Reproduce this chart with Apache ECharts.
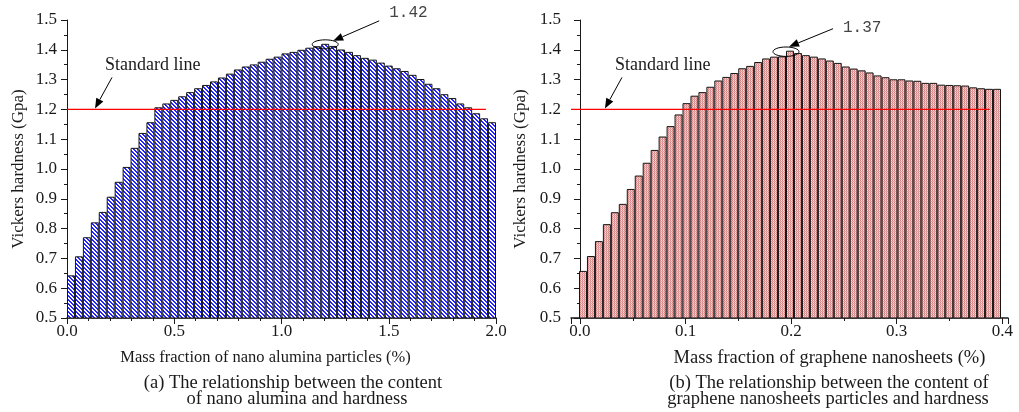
<!DOCTYPE html>
<html>
<head>
<meta charset="utf-8">
<script src="https://cdn.jsdelivr.net/npm/echarts@6/dist/echarts.min.js"></script>
<style>
  html, body { margin: 0; padding: 0; background: #fff; }
  #chart { width: 1019px; height: 412px; }
</style>
</head>
<body>
<div id="chart"></div>
<script>
// hardness of each bar (Gpa)
const aluminaHardness = [
  0.643, 0.707, 0.771, 0.821, 0.856, 0.907, 0.957, 1.007, 1.071, 1.121,
  1.157, 1.207, 1.220, 1.232, 1.244, 1.258, 1.271, 1.282, 1.294, 1.307,
  1.320, 1.334, 1.344, 1.351, 1.360, 1.370, 1.377, 1.388, 1.393, 1.400,
  1.407, 1.412, 1.420, 1.413, 1.401, 1.393, 1.382, 1.373, 1.367, 1.357,
  1.347, 1.338, 1.329, 1.316, 1.302, 1.286, 1.271, 1.251, 1.238, 1.220,
  1.207, 1.187, 1.170, 1.157
];
const grapheneHardness = [
  0.658, 0.708, 0.758, 0.815, 0.855, 0.883, 0.933, 0.978, 1.021, 1.064,
  1.109, 1.144, 1.183, 1.221, 1.246, 1.258, 1.276, 1.297, 1.309, 1.322,
  1.338, 1.346, 1.359, 1.371, 1.377, 1.378, 1.397, 1.389, 1.382, 1.377,
  1.371, 1.364, 1.356, 1.344, 1.337, 1.331, 1.324, 1.314, 1.308, 1.301,
  1.301, 1.297, 1.296, 1.289, 1.289, 1.283, 1.282, 1.281, 1.280, 1.274,
  1.271, 1.269, 1.269
];
const aluminaBins = aluminaHardness.map((_, i) => String(i + 1));
const grapheneBins = grapheneHardness.map((_, i) => String(i + 1));

const standardHardness = 1.2;
const aluminaStdLine = [0, 1.953];        // x extent of the red line, %
const grapheneAxis = [-0.0085, 0.4054];   // x axis range of chart (b)
const grapheneStdLine = [-0.0085, 0.388];
const peakLabels = ['1.42', '1.37'];

const captionA = ['(a) The relationship between the content', 'of nano alumina and hardness'];
const captionB = ['(b) The relationship between the content of', 'graphene nanosheets particles and hardness'];

const FONT = "'Liberation Serif', 'Times New Roman', serif";
const INK = '#1a1a1a';

function makePattern(size, paint) {
  const c = document.createElement('canvas');
  c.width = size; c.height = size;
  const ctx = c.getContext('2d');
  for (let y = 0; y < size; y++) {
    for (let x = 0; x < size; x++) {
      ctx.fillStyle = paint(x, y);
      ctx.fillRect(x, y, 1, 1);
    }
  }
  return { image: c, repeat: 'repeat' };
}
const blueHatch = makePattern(4, (x, y) => ((x - y + 8) % 4 < 2 ? '#2424ff' : '#ffffff'));
const pinkDots = makePattern(2, (x, y) => {
  if (x === 0 && y === 0) return '#d68282';
  if (x === 1 && y === 1) return '#e29c9c';
  if (x === 1 && y === 0) return '#f8e0e0';
  return '#e8aeae';
});

const chart = echarts.init(document.getElementById('chart'), null, { renderer: 'canvas' });

const yAxisCommon = {
  type: 'value',
  min: 0.5,
  max: 1.5,
  interval: 0.1,
  name: 'Vickers hardness (Gpa)',
  nameLocation: 'middle',
  nameGap: 40,
  nameTextStyle: { fontFamily: FONT, fontSize: 17, color: INK },
  axisLine: { show: true, lineStyle: { color: INK, width: 1 } },
  axisTick: { show: true, length: 6, lineStyle: { color: INK } },
  minorTick: { show: true, splitNumber: 2, length: 3, lineStyle: { color: INK } },
  axisLabel: { fontFamily: FONT, fontSize: 17, color: INK, margin: 10, formatter: v => v.toFixed(1) },
  splitLine: { show: false }
};

const xLabel = { fontFamily: FONT, fontSize: 17, color: INK, margin: 5 };

const option = {
  animation: false,
  backgroundColor: '#fff',
  grid: [
    { left: 67, top: 20, width: 429, height: 298 },
    { left: 571, top: 20, width: 437, height: 298 },
    { left: 579, top: 20, width: 422, height: 298 }
  ],
  xAxis: [
    { type: 'category', gridIndex: 0, data: aluminaBins, show: false, boundaryGap: true },
    {
      type: 'value', gridIndex: 0, min: 0, max: 2, interval: 0.5, position: 'bottom',
      name: 'Mass fraction of nano alumina particles (%)',
      nameLocation: 'middle', nameGap: 31,
      nameTextStyle: { fontFamily: FONT, fontSize: 16.5, color: INK, padding: [0, 32, 0, 0] },
      axisLine: { show: true, lineStyle: { color: INK, width: 1.5 } },
      axisTick: { show: true, length: 6, lineStyle: { color: INK } },
      minorTick: { show: true, splitNumber: 5, length: 3, lineStyle: { color: INK } },
      axisLabel: Object.assign({}, xLabel, { formatter: v => v.toFixed(1) }),
      splitLine: { show: false }
    },
    {
      type: 'value', gridIndex: 1, min: grapheneAxis[0], max: grapheneAxis[1], position: 'bottom',
      name: 'Mass fraction of graphene nanosheets (%)',
      nameLocation: 'middle', nameGap: 31,
      nameTextStyle: { fontFamily: FONT, fontSize: 18.5, color: INK, padding: [0, 0, 0, 80] },
      axisLine: { show: true, lineStyle: { color: INK, width: 1.5 } },
      axisTick: { show: true, length: 6, lineStyle: { color: INK } },
      minorTick: { show: true, splitNumber: 2, length: 3, lineStyle: { color: INK } },
      axisLabel: Object.assign({}, xLabel, {
        formatter: v => (Math.abs(v * 10 - Math.round(v * 10)) < 1e-6 ? v.toFixed(1) : '')
      }),
      splitLine: { show: false }
    },
    { type: 'category', gridIndex: 2, data: grapheneBins, show: false, boundaryGap: true }
  ],
  yAxis: [
    Object.assign({ gridIndex: 0 }, yAxisCommon),
    Object.assign({ gridIndex: 1 }, yAxisCommon, { nameGap: 42 }),
    { type: 'value', gridIndex: 2, min: 0.5, max: 1.5, show: false }
  ],
  series: [
    {
      type: 'bar', xAxisIndex: 0, yAxisIndex: 0,
      data: aluminaHardness,
      barWidth: '100%', barCategoryGap: '0%',
      itemStyle: { color: blueHatch, borderColor: '#151515', borderWidth: 1 },
      silent: true
    },
    {
      type: 'line', xAxisIndex: 1, yAxisIndex: 0,
      data: aluminaStdLine.map(x => [x, standardHardness]),
      symbol: 'none', z: 5,
      lineStyle: { color: '#ff0000', width: 1.2 }
    },
    {
      type: 'bar', xAxisIndex: 3, yAxisIndex: 2,
      data: grapheneHardness,
      barWidth: '100%', barCategoryGap: '0%',
      itemStyle: { color: pinkDots, borderColor: '#151515', borderWidth: 1 },
      silent: true
    },
    {
      type: 'line', xAxisIndex: 2, yAxisIndex: 1,
      data: grapheneStdLine.map(x => [x, standardHardness]),
      symbol: 'none', z: 5,
      lineStyle: { color: '#ff0000', width: 1.2 }
    }
  ]
};

chart.setOption(option);

function arrow(x1, y1, x2, y2) {
  const a = Math.atan2(y2 - y1, x2 - x1);
  const L = 10, W = 4;
  const bx = x2 - L * Math.cos(a), by = y2 - L * Math.sin(a);
  return [
    { type: 'line', z: 10, shape: { x1: x1, y1: y1, x2: bx, y2: by }, style: { stroke: '#000', lineWidth: 1 } },
    {
      type: 'polygon', z: 10,
      shape: { points: [[x2, y2], [bx + W * Math.sin(a), by - W * Math.cos(a)], [bx - W * Math.sin(a), by + W * Math.cos(a)]] },
      style: { fill: '#000' }
    }
  ];
}

function text(x, y, str, size, opts) {
  return {
    type: 'text', x: x, y: y, z: 10,
    style: Object.assign({ text: str, fontFamily: FONT, fontSize: size, fill: INK, align: 'left', verticalAlign: 'middle' }, opts || {})
  };
}

function peakIndex(arr) {
  return arr.indexOf(Math.max.apply(null, arr));
}

const g = [];
// peak markers
const pA = chart.convertToPixel({ seriesIndex: 0 }, [peakIndex(aluminaHardness), Math.max.apply(null, aluminaHardness)]);
const pB = chart.convertToPixel({ seriesIndex: 2 }, [peakIndex(grapheneHardness), Math.max.apply(null, grapheneHardness)]);
g.push({ type: 'ellipse', z: 10, shape: { cx: pA[0], cy: pA[1] + 0.5, rx: 13, ry: 4.5 }, style: { fill: null, stroke: '#000', lineWidth: 1 } });
g.push(...arrow(pA[0] + 54, pA[1] - 23, pA[0] + 8, pA[1] - 3));
g.push(text(pA[0] + 64, pA[1] - 31, peakLabels[0], 16, { fontFamily: "'Liberation Mono', monospace", fill: '#444' }));
g.push({ type: 'ellipse', z: 10, shape: { cx: pB[0] - 4, cy: pB[1] + 1, rx: 13, ry: 4.7 }, style: { fill: null, stroke: '#000', lineWidth: 1 } });
g.push(...arrow(pB[0] + 43, pB[1] - 22, pB[0] - 1, pB[1] - 4));
g.push(text(pB[0] + 53, pB[1] - 23, peakLabels[1], 16, { fontFamily: "'Liberation Mono', monospace", fill: '#444' }));

// standard line callouts
const sA = chart.convertToPixel({ seriesIndex: 1 }, [0, standardHardness]);
const sB = chart.convertToPixel({ seriesIndex: 3 }, [0, standardHardness]);
g.push(text(sA[0] + 38, sA[1] - 44, 'Standard line', 18));
g.push(...arrow(sA[0] + 45, sA[1] - 32, sA[0] + 28, sA[1] - 1));
g.push(text(sB[0] + 35, sB[1] - 44, 'Standard line', 18));
g.push(...arrow(sB[0] + 42, sB[1] - 32, sB[0] + 25, sB[1] - 1));

// sub-figure captions
g.push(text(293, 383, captionA[0], 18.5, { align: 'center' }));
g.push(text(297, 399, captionA[1], 18.5, { align: 'center' }));
g.push(text(829, 383, captionB[0], 18.5, { align: 'center' }));
g.push(text(828, 399, captionB[1], 18.5, { align: 'center' }));

chart.setOption({ graphic: { elements: g } });
</script>
</body>
</html>
